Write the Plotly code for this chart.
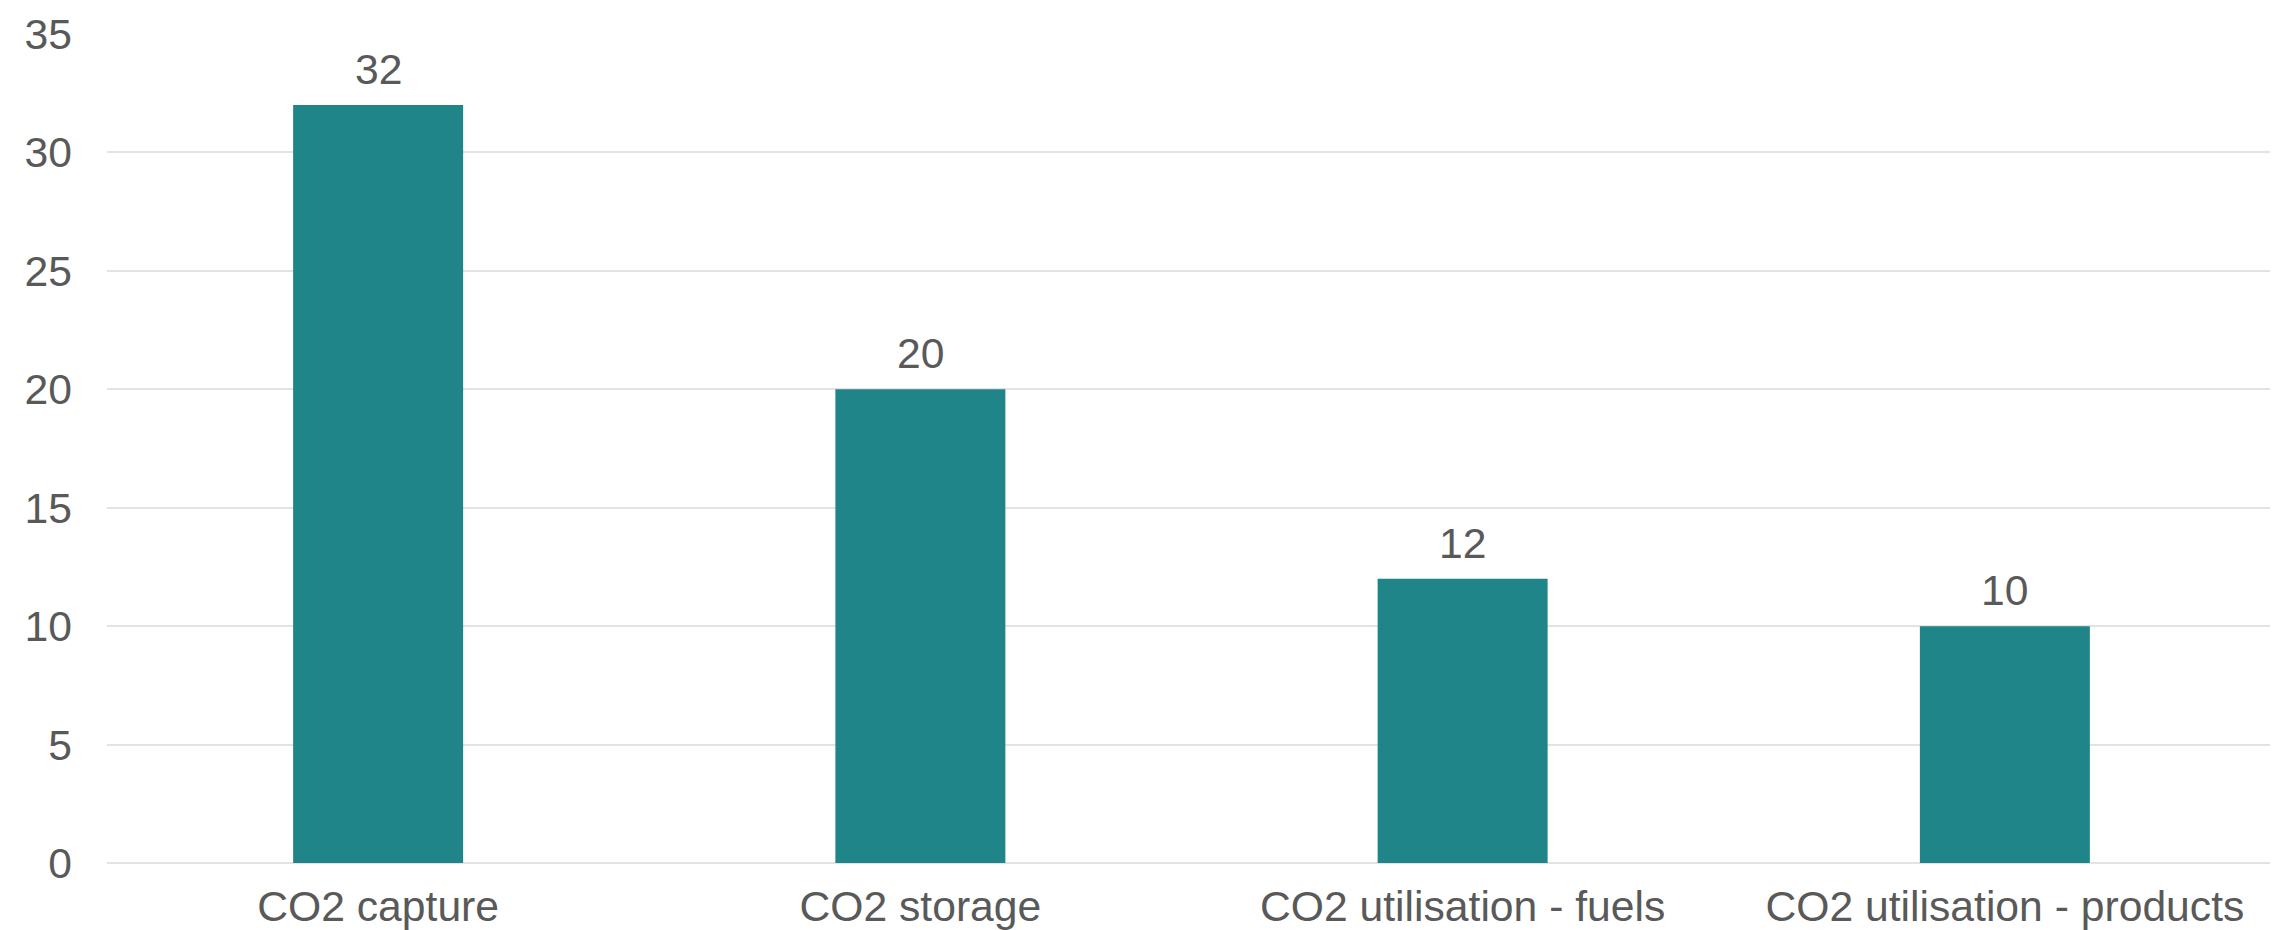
import plotly.graph_objects as go

categories = ["CO2 capture", "CO2 storage", "CO2 utilisation - fuels", "CO2 utilisation - products"]
values = [32, 20, 12, 10]
y_ticks = [0, 5, 10, 15, 20, 25, 30, 35]

BAR_COLOR = "#1F8589"
TEXT_COLOR = "#595959"
GRID_COLOR = "#E3E3E3"
FONT = "Liberation Sans, Arial, sans-serif"
FS = 42.67

fig = go.Figure()
fig.add_trace(go.Bar(
    x=categories,
    y=values,
    marker=dict(color=BAR_COLOR, line=dict(width=0)),
    width=0.3135,
    hoverinfo="skip",
))

for c, v in zip(categories, values):
    fig.add_annotation(
        x=c, y=v, text=str(v), showarrow=False,
        yanchor="bottom", yshift=10,
        font=dict(family=FONT, size=FS, color=TEXT_COLOR),
    )

fig.update_layout(
    width=2278, height=930,
    margin=dict(l=99, r=10, t=26, b=75, autoexpand=False),
    paper_bgcolor="white", plot_bgcolor="white",
    showlegend=False,
    font=dict(family=FONT, size=FS, color=TEXT_COLOR),
)
fig.update_xaxes(
    automargin=False,
    showgrid=False, showline=False, zeroline=False,
    ticks="", tickfont=dict(family=FONT, size=FS, color=TEXT_COLOR),
    ticklabelstandoff=14,
)
fig.update_yaxes(
    automargin=False,
    range=[0, 35], tickvals=y_ticks,
    showgrid=True, gridcolor=GRID_COLOR, gridwidth=2,
    zeroline=True, zerolinecolor=GRID_COLOR, zerolinewidth=2,
    showline=False, ticks="",
    tickfont=dict(family=FONT, size=FS, color=TEXT_COLOR),
    ticklabelstandoff=34,
)

fig.write_html("out.html")
